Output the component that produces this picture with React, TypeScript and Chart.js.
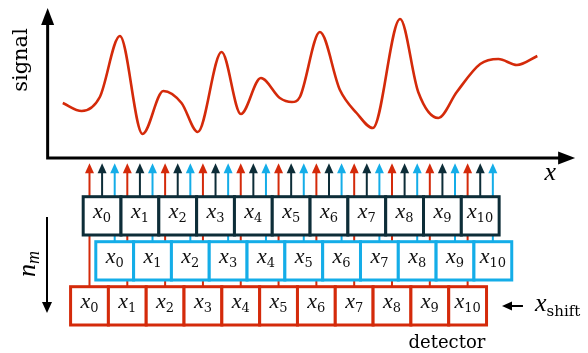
import { useEffect, useRef } from "react";
import { Chart, registerables } from "chart.js";

Chart.register(...registerables);

// ---- data ----
// signal sampled along position x (in units of detector cells)
const signalPos = [-1.04, -0.54, -0.06, 0.47, 1.07, 1.62, 2.1, 2.53, 3.16, 3.67, 4.2, 4.7, 5.02, 5.23, 5.76, 6.29, 6.73, 7.16, 7.88, 8.36, 8.89, 9.38, 10.0, 10.48, 10.97, 11.51];
const signalVal = [55, 47, 61, 122, 24, 67, 55, 26, 106, 44, 80, 60, 56, 61, 126, 68, 45, 30, 139, 66, 40, 66, 94, 99, 93, 102];
// detector cells
const cellIndex = [0, 1, 2, 3, 4, 5, 6, 7, 8, 9, 10];
const cellLabels = cellIndex.map((i) => String(i));
// rows of shifted detector read-outs (top to bottom)
const rowNames = ["n0", "n1", "detector"];
const rowShift = [0, 1 / 3, -1 / 3];
const rowColors = ["#0d2d38", "#14ade8", "#d42a0a"];

// ---- layout (value units of the hidden scales) ----
const X_MIN = -2.7;
const X_MAX = 12.85;
const Y_MIN = -195;
const Y_MAX = 158;
const rowTop = [-38.7, -83.7, -128.7];
const rowBottom = [-77, -122, -167];
const arrowTipY = -5.3;
const axisX = -1.44;
const axisTop = 150;
const axisRight = 12.51;

const FONT = "'DejaVu Serif', serif";
const MATH = "'Liberation Serif', serif";

function subText(
  ctx: CanvasRenderingContext2D,
  main: string,
  sub: string,
  cx: number,
  baseY: number,
  mainSize: number,
  subSize: number,
  subDrop: number,
  subItalic = false,
  align: "center" | "left" = "center"
) {
  const mf = `italic ${mainSize}px ${MATH}`;
  const sf = subItalic ? `italic ${subSize}px ${MATH}` : `${subSize}px ${FONT}`;
  ctx.font = mf;
  const wm = ctx.measureText(main).width;
  ctx.font = sf;
  const ws = ctx.measureText(sub).width;
  const start = align === "center" ? cx - (wm + ws) / 2 : cx;
  ctx.textAlign = "left";
  ctx.textBaseline = "alphabetic";
  ctx.font = mf;
  ctx.fillText(main, start, baseY);
  ctx.font = sf;
  ctx.fillText(sub, start + wm, baseY + subDrop);
}

function arrowHead(ctx: CanvasRenderingContext2D, tx: number, ty: number, dir: "up" | "down" | "left" | "right", len: number, half: number) {
  ctx.beginPath();
  if (dir === "up") {
    ctx.moveTo(tx, ty);
    ctx.lineTo(tx - half, ty + len);
    ctx.lineTo(tx + half, ty + len);
  } else if (dir === "down") {
    ctx.moveTo(tx, ty);
    ctx.lineTo(tx - half, ty - len);
    ctx.lineTo(tx + half, ty - len);
  } else if (dir === "left") {
    ctx.moveTo(tx, ty);
    ctx.lineTo(tx + len, ty - half);
    ctx.lineTo(tx + len, ty + half);
  } else {
    ctx.moveTo(tx, ty);
    ctx.lineTo(tx - len, ty - half);
    ctx.lineTo(tx - len, ty + half);
  }
  ctx.closePath();
  ctx.fill();
}

const diagramPlugin = {
  id: "diagram",
  afterDatasetsDraw(chart: any) {
    const ctx: CanvasRenderingContext2D = chart.ctx;
    const xs = chart.scales.x;
    const ys = chart.scales.y;
    const px = (v: number) => xs.getPixelForValue(v);
    const py = (v: number) => ys.getPixelForValue(v);
    ctx.save();

    // axes
    ctx.strokeStyle = "#000";
    ctx.fillStyle = "#000";
    ctx.lineWidth = 3;
    ctx.beginPath();
    ctx.moveTo(px(axisX), py(axisTop) + 12);
    ctx.lineTo(px(axisX), py(0));
    ctx.lineTo(px(axisRight) - 12, py(0));
    ctx.stroke();
    arrowHead(ctx, px(axisX), py(axisTop), "up", 17, 6.5);
    arrowHead(ctx, px(axisRight), py(0), "right", 17, 6.5);

    // read-out arrows (lines first, boxes cover them)
    const order = [2, 0, 1];
    ctx.lineWidth = 2;
    for (const i of cellIndex) {
      for (const r of order) {
        const x = px(i + rowShift[r]);
        ctx.strokeStyle = rowColors[r];
        ctx.fillStyle = rowColors[r];
        ctx.beginPath();
        ctx.moveTo(x, py(rowTop[r]));
        ctx.lineTo(x, py(arrowTipY) + 6);
        ctx.stroke();
        arrowHead(ctx, x, py(arrowTipY), "up", 10, 4.5);
      }
    }

    // detector rows
    for (let r = 0; r < rowNames.length; r++) {
      for (const i of cellIndex) {
        const x0 = px(i + rowShift[r] - 0.5);
        const x1 = px(i + rowShift[r] + 0.5);
        const y0 = py(rowTop[r]);
        const y1 = py(rowBottom[r]);
        ctx.fillStyle = "#fff";
        ctx.fillRect(x0, y0, x1 - x0, y1 - y0);
        ctx.strokeStyle = rowColors[r];
        ctx.lineWidth = 3;
        ctx.strokeRect(x0, y0, x1 - x0, y1 - y0);
        ctx.fillStyle = "#111";
        subText(ctx, "x", cellLabels[i], (x0 + x1) / 2, y0 + 21.5, 22, 13, 4);
      }
    }

    // n_m arrow and label
    ctx.strokeStyle = "#000";
    ctx.fillStyle = "#000";
    ctx.lineWidth = 2;
    ctx.beginPath();
    ctx.moveTo(px(-1.457), py(-59));
    ctx.lineTo(px(-1.457), py(-155) - 6);
    ctx.stroke();
    arrowHead(ctx, px(-1.457), py(-155), "down", 11, 5);

    ctx.save();
    ctx.translate(px(-1.96), py(-106));
    ctx.rotate(-Math.PI / 2);
    subText(ctx, "n", "m", 0, 7, 26, 18, 4, true);
    ctx.restore();

    // signal label
    ctx.save();
    ctx.translate(px(-2.118), py(98));
    ctx.rotate(-Math.PI / 2);
    ctx.font = `21px ${FONT}`;
    ctx.textAlign = "center";
    ctx.textBaseline = "middle";
    ctx.fillStyle = "#000";
    ctx.fillText("signal", 0, 0);
    ctx.restore();

    // x axis label
    ctx.font = `italic 26px ${MATH}`;
    ctx.textAlign = "center";
    ctx.textBaseline = "alphabetic";
    ctx.fillStyle = "#000";
    ctx.fillText("x", px(11.85), py(-22));

    // x_shift arrow and label
    ctx.lineWidth = 2;
    ctx.beginPath();
    ctx.moveTo(px(11.13), py(-148));
    ctx.lineTo(px(10.576) + 6, py(-148));
    ctx.stroke();
    arrowHead(ctx, px(10.576), py(-148), "left", 10, 4.5);
    subText(ctx, "x", "shift", px(11.45), py(-153), 26, 15, 5, false, "left");

    // detector label
    ctx.font = `18px ${FONT}`;
    ctx.textAlign = "center";
    ctx.fillText("detector", px(9.12), py(-190));

    ctx.restore();
  },
};

export default function App() {
  const ref = useRef<HTMLCanvasElement>(null);
  useEffect(() => {
    if (!ref.current) return;
    const chart = new Chart(ref.current, {
      type: "line",
      data: {
        datasets: [
          {
            label: "signal",
            data: signalPos.map((x, i) => ({ x, y: signalVal[i] })),
            borderColor: "#d42a0a",
            borderWidth: 2.6,
            pointRadius: 0,
            cubicInterpolationMode: "monotone",
            fill: false,
          },
        ],
      },
      options: {
        animation: false,
        responsive: false,
        devicePixelRatio: 1,
        layout: { padding: 0 },
        scales: {
          x: { type: "linear", min: X_MIN, max: X_MAX, display: false },
          y: { type: "linear", min: Y_MIN, max: Y_MAX, display: false },
        },
        plugins: { legend: { display: false }, tooltip: { enabled: false }, title: { display: false } },
      },
      plugins: [diagramPlugin],
    } as any);
    return () => chart.destroy();
  }, []);
  return (
    <div style={{ position: "fixed", left: 0, top: 0, width: 588, height: 353, background: "#fff" }}>
      <canvas ref={ref} width={588} height={353} style={{ display: "block" }} />
    </div>
  );
}
